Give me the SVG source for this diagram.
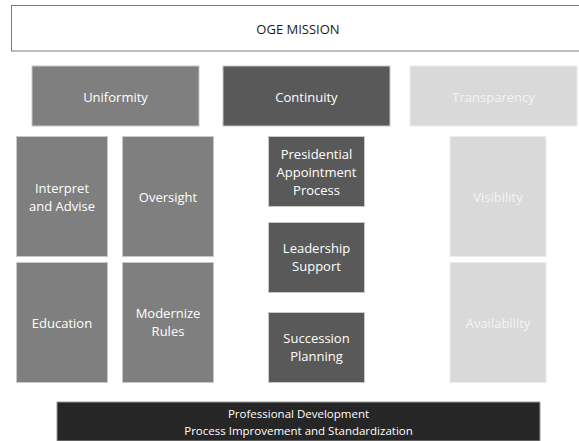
<svg xmlns="http://www.w3.org/2000/svg" width="579" height="441" viewBox="0 0 579 441">
<style>
text{font-family:"Open Sans","Liberation Sans",sans-serif;font-size:13px;text-anchor:middle;fill:#fff}
.u{fill:#7f7f7f;stroke:#c8c8c8;stroke-width:1}
.c{fill:#595959;stroke:#c8c8c8;stroke-width:1}
.t{fill:#d9d9d9;stroke:#ececec;stroke-width:1}
.lt{fill:#f4f4f4}
</style>
<rect width="579" height="441" fill="#fff"/>
<g id="mission"><rect x="11.5" y="5.5" width="568" height="45.5" fill="#fff" stroke="#7a7a7a" stroke-width="1"/><text x="298" y="33.5" style="fill:#1a1a1a">OGE MISSION</text></g>
<g id="uniformity"><rect class="u" x="32" y="66" width="167" height="60"/><text x="115.5" y="101.5">Uniformity</text></g>
<g id="continuity"><rect class="c" x="223" y="66" width="167" height="60"/><text x="306.5" y="101.5">Continuity</text></g>
<g id="transparency"><rect class="t" x="410" y="66" width="167" height="60"/><text class="lt" x="493.5" y="101.5">Transparency</text></g>
<g id="interpret"><rect class="u" x="16.5" y="136.5" width="91" height="120"/><text x="62" y="192.5">Interpret</text><text x="62" y="210.5">and Advise</text></g>
<g id="oversight"><rect class="u" x="122.5" y="136.5" width="91" height="120"/><text x="168" y="201.5">Oversight</text></g>
<g id="education"><rect class="u" x="16.5" y="262.5" width="91" height="120"/><text x="62" y="327.5">Education</text></g>
<g id="modernize"><rect class="u" x="122.5" y="262.5" width="91" height="120"/><text x="168" y="317.5">Modernize</text><text x="168" y="335.5">Rules</text></g>
<g id="presidential"><rect class="c" x="268.5" y="136.5" width="96" height="70"/><text x="316.5" y="158.5">Presidential</text><text x="316.5" y="176.5">Appointment</text><text x="316.5" y="194.5">Process</text></g>
<g id="leadership"><rect class="c" x="268.5" y="222.5" width="96" height="70"/><text x="316.5" y="252.5">Leadership</text><text x="316.5" y="271">Support</text></g>
<g id="succession"><rect class="c" x="268.5" y="312.5" width="96" height="70"/><text x="316.5" y="343">Succession</text><text x="316.5" y="361">Planning</text></g>
<g id="visibility"><rect class="t" x="450" y="136.5" width="96" height="120"/><text class="lt" x="498" y="201.5">Visibility</text></g>
<g id="availability"><rect class="t" x="450" y="262.5" width="96" height="120"/><text class="lt" x="498" y="327.5">Availability</text></g>
<g id="foundation"><rect x="57" y="402" width="483" height="39" fill="#262626" stroke="#9a9a9a" stroke-width="1"/><text x="298.5" y="418" style="font-size:11.5px">Professional Development</text><text x="298.5" y="435" style="font-size:11.5px">Process Improvement and Standardization</text></g>
<g id="connectors"></g>
</svg>
